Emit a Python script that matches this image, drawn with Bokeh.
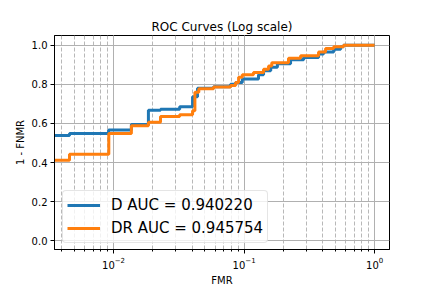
from bokeh.plotting import figure
from bokeh.models import Range1d, FixedTicker, PrintfTickFormatter, Legend, LegendItem, Title
from bokeh.embed import file_html
from bokeh.resources import INLINE

# ---- data ----
d_fmr = [0.001, 0.0046, 0.00916, 0.0137, 0.0185, 0.0229, 0.0321, 0.0403, 0.0440,
         0.0584, 0.0788, 0.0861, 0.0969, 0.129, 0.141, 0.160, 0.180, 0.227, 0.286,
         0.372, 0.406, 0.486, 0.549, 0.578, 1.0]
d_tpr = [0.538, 0.548, 0.566, 0.594, 0.667, 0.673, 0.686, 0.736, 0.780,
         0.788, 0.800, 0.810, 0.828, 0.849, 0.870, 0.888, 0.905, 0.926, 0.938,
         0.955, 0.966, 0.980, 0.993, 1.0, 1.0]

dr_fmr = [0.001, 0.0046, 0.0092, 0.0137, 0.0185, 0.0229, 0.0321, 0.0403, 0.0420,
          0.0450, 0.0584, 0.0788, 0.0861, 0.0908, 0.0969, 0.118, 0.141, 0.154,
          0.163, 0.219, 0.271, 0.372, 0.421, 0.486, 0.578, 1.0]
dr_tpr = [0.412, 0.442, 0.548, 0.588, 0.606, 0.635, 0.645, 0.665, 0.760,
          0.777, 0.786, 0.794, 0.810, 0.836, 0.849, 0.861, 0.877, 0.894,
          0.910, 0.933, 0.946, 0.966, 0.983, 0.993, 1.0, 1.0]

series_labels = ["D AUC = 0.940220", "DR AUC = 0.945754"]
series_colors = ["#1f77b4", "#ff7f0e"]
y_ticks = [0.0, 0.2, 0.4, 0.6, 0.8, 1.0]

title_text = "ROC Curves (Log scale)"
x_label = "FMR"
y_label = "1 - FNMR"

FONT = "DejaVu Sans"

p = figure(width=432, height=288, x_axis_type="log",
           x_range=Range1d(0.00353, 1.30), y_range=Range1d(-0.045, 1.05),
           output_backend="svg", toolbar_location=None,
           min_border_left=54, min_border_right=43, min_border_top=35,
           min_border_bottom=36)

# the plot's own title is drawn outermost: use it as a thin spacer
p.title.text = " "
p.title.text_font_size = "1px"
p.title.standoff = 11
# the real title, placed next to the frame
p.add_layout(Title(text=title_text, align="center", text_font=FONT,
                   text_font_size="12px", text_font_style="normal",
                   text_color="black", standoff=4), "above")

p.background_fill_color = "white"
p.border_fill_color = "white"
p.outline_line_color = "black"
p.outline_line_width = 1

# grids
p.xgrid.grid_line_color = "#b0b0b0"
p.xgrid.grid_line_width = 1
p.xgrid.minor_grid_line_color = "#b8b8b8"
p.xgrid.minor_grid_line_dash = "4 2"
p.xgrid.minor_grid_line_width = 1
p.ygrid.grid_line_color = "#b0b0b0"
p.ygrid.grid_line_width = 1
p.yaxis.ticker = FixedTicker(ticks=y_ticks)
p.yaxis.formatter = PrintfTickFormatter(format="%.1f")

for ax in (p.xaxis[0], p.yaxis[0]):
    ax.axis_line_color = "black"
    ax.major_tick_line_color = "black"
    ax.major_tick_out = 4
    ax.major_tick_in = 0
    ax.minor_tick_out = 2
    ax.minor_tick_in = 0
    ax.major_label_text_font = FONT
    ax.major_label_text_font_size = "10px"
    ax.major_label_text_color = "black"
    ax.axis_label_text_font = FONT
    ax.axis_label_text_font_size = "10px"
    ax.axis_label_text_font_style = "normal"
    ax.axis_label_text_color = "black"
    ax.major_label_standoff = 3
    ax.axis_label_standoff = 3

p.xaxis.axis_label = x_label
p.yaxis.axis_label = y_label
p.yaxis.minor_tick_line_color = None
p.xaxis.minor_tick_line_color = "black"

r1 = p.step(d_fmr, d_tpr, mode="after", line_color=series_colors[0], line_width=3)
r2 = p.step(dr_fmr, dr_tpr, mode="after", line_color=series_colors[1], line_width=3)

leg = Legend(items=[LegendItem(label=series_labels[0], renderers=[r1]),
                    LegendItem(label=series_labels[1], renderers=[r2])],
             location=(8, 6))
leg.label_text_font = FONT
leg.label_text_font_size = "15px"
leg.label_text_color = "black"
leg.glyph_width = 33
leg.glyph_height = 20
leg.label_height = 20
leg.label_standoff = 11
leg.spacing = 3
leg.padding = 4
leg.margin = 0
leg.border_line_color = "#cccccc"
leg.border_line_width = 1
leg.background_fill_color = "white"
leg.background_fill_alpha = 0.8
try:
    leg.border_radius = 4
except Exception:
    pass
p.add_layout(leg)

open("out.html", "w").write(file_html(p, INLINE))
